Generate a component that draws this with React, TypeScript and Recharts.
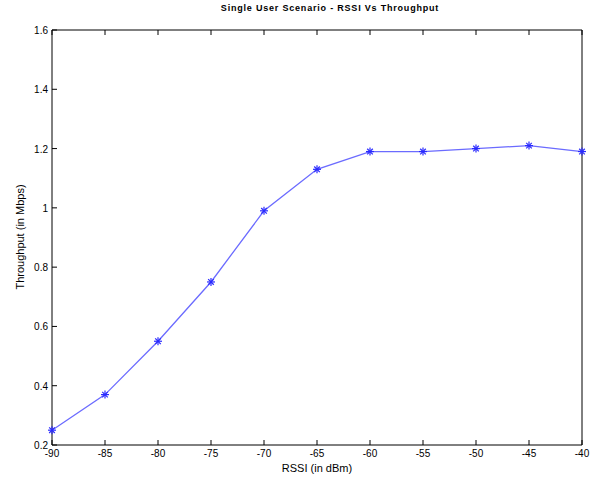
import { LineChart, Line, XAxis, YAxis } from "recharts"

const rssi = [-90, -85, -80, -75, -70, -65, -60, -55, -50, -45, -40]
const throughput = [0.25, 0.37, 0.55, 0.75, 0.99, 1.13, 1.19, 1.19, 1.2, 1.21, 1.19]
const xTicks = [-90, -85, -80, -75, -70, -65, -60, -55, -50, -45, -40]
const yTicks = [0.2, 0.4, 0.6, 0.8, 1, 1.2, 1.4, 1.6]

const data = rssi.map((r, i) => ({ rssi: r, throughput: throughput[i] }))

const font = "'Liberation Sans', Arial, Helvetica, sans-serif"
const TICK = 5

const fmt = (v: number) => String(Math.round(v * 10) / 10)

function BottomTick(props: any) {
  const { x, y, payload } = props
  return (
    <g>
      <line x1={x} x2={x} y1={y - 4} y2={y - 4 - TICK} stroke="#000" strokeWidth={1} />
      <text x={x} y={y} dy={8} textAnchor="middle" fontSize={10} fontFamily={font} fill="#000">
        {fmt(payload.value)}
      </text>
    </g>
  )
}

function TopTick(props: any) {
  const { x, y } = props
  return <line x1={x} x2={x} y1={y} y2={y + TICK} stroke="#000" strokeWidth={1} />
}

function LeftTick(props: any) {
  const { x, y, payload } = props
  return (
    <g>
      <line x1={x + 4} x2={x + 4 + TICK} y1={y} y2={y} stroke="#000" strokeWidth={1} />
      <text x={x} y={y} dy={4} textAnchor="end" fontSize={10} fontFamily={font} fill="#000">
        {fmt(payload.value)}
      </text>
    </g>
  )
}

function RightTick(props: any) {
  const { x, y } = props
  return <line x1={x} x2={x - TICK} y1={y} y2={y} stroke="#000" strokeWidth={1} />
}

function Star(props: any) {
  const { cx, cy } = props
  if (cx == null || cy == null) return null
  const r = 4
  const d = 2.8
  return (
    <g stroke="#2a2aff" strokeWidth={1.2}>
      <line x1={cx - r} x2={cx + r} y1={cy} y2={cy} />
      <line x1={cx} x2={cx} y1={cy - r} y2={cy + r} />
      <line x1={cx - d} x2={cx + d} y1={cy - d} y2={cy + d} />
      <line x1={cx - d} x2={cx + d} y1={cy + d} y2={cy - d} />
    </g>
  )
}

export default function App() {
  return (
    <div style={{ position: "absolute", left: 0, top: 0, width: 600, height: 483, background: "#fff" }}>
      <div
        style={{
          position: "absolute",
          left: 0,
          width: 660,
          top: 3,
          textAlign: "center",
          fontFamily: font,
          fontWeight: "bold",
          fontSize: 9,
          letterSpacing: 0.8,
        }}
      >
        Single User Scenario - RSSI Vs Throughput
      </div>
      <div
        style={{
          position: "absolute",
          left: 52,
          width: 530,
          top: 462,
          textAlign: "center",
          fontFamily: font,
          fontSize: 11,
        }}
      >
        RSSI (in dBm)
      </div>
      <div
        style={{
          position: "absolute",
          left: 20,
          top: 237,
          transform: "translate(-50%, -50%) rotate(-90deg)",
          whiteSpace: "nowrap",
          fontFamily: font,
          fontSize: 11,
        }}
      >
        Throughput (in Mbps)
      </div>
      <LineChart
        width={600}
        height={483}
        data={data}
        margin={{ top: 29, right: 17, bottom: 8, left: 12 }}
        style={{ position: "absolute", left: 0, top: 0 }}
      >
        <XAxis
          xAxisId="bottom"
          dataKey="rssi"
          type="number"
          domain={[-90, -40]}
          ticks={xTicks}
          orientation="bottom"
          height={30}
          tickSize={0}
          tickMargin={4}
          tickLine={false}
          axisLine={{ stroke: "#000" }}
          tick={<BottomTick />}
          interval={0}
        />
        <XAxis
          xAxisId="top"
          dataKey="rssi"
          type="number"
          domain={[-90, -40]}
          ticks={xTicks}
          orientation="top"
          height={1}
          tickSize={0}
          tickMargin={0}
          tickLine={false}
          axisLine={{ stroke: "#000" }}
          tick={<TopTick />}
          interval={0}
        />
        <YAxis
          yAxisId="left"
          type="number"
          domain={[0.2, 1.6]}
          ticks={yTicks}
          orientation="left"
          width={40}
          tickSize={0}
          tickMargin={4}
          tickLine={false}
          axisLine={{ stroke: "#000" }}
          tick={<LeftTick />}
          interval={0}
        />
        <YAxis
          yAxisId="right"
          type="number"
          domain={[0.2, 1.6]}
          ticks={yTicks}
          orientation="right"
          width={1}
          tickSize={0}
          tickMargin={0}
          tickLine={false}
          axisLine={{ stroke: "#000" }}
          tick={<RightTick />}
          interval={0}
        />
        <Line
          xAxisId="bottom"
          yAxisId="left"
          type="linear"
          dataKey="throughput"
          stroke="#6b6bff"
          strokeWidth={1.3}
          dot={<Star />}
          activeDot={false}
          isAnimationActive={false}
        />
      </LineChart>
    </div>
  )
}
